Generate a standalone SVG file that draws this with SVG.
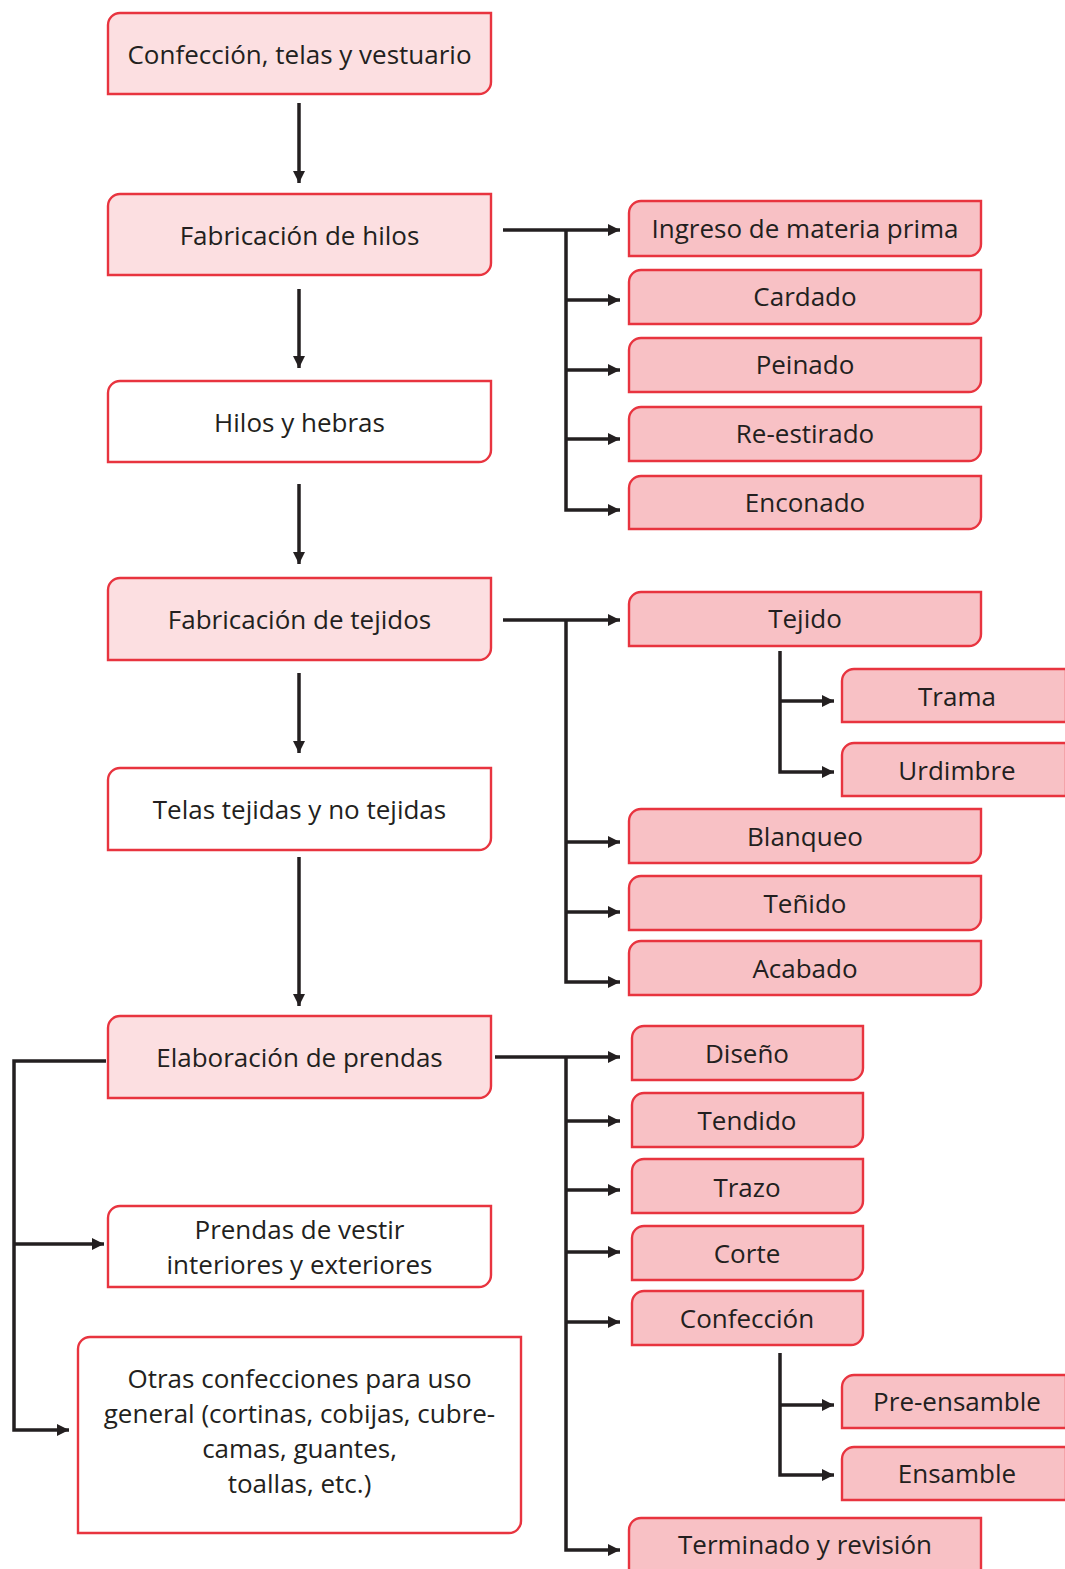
<svg xmlns="http://www.w3.org/2000/svg" width="1065" height="1569" viewBox="0 0 1065 1569">
<defs>
<style>
.t{font-family:"Open Sans","Noto Sans",sans-serif;font-size:26px;fill:#231f20;text-anchor:middle;dominant-baseline:central}
.main{fill:#fcdfe1;stroke:#e8343f;stroke-width:2.4}
.white{fill:#ffffff;stroke:#e8343f;stroke-width:2.4}
.sub{fill:#f8c1c5;stroke:#e8343f;stroke-width:2.4}
.c{fill:none;stroke:#231f20;stroke-width:3.5}
</style>
<marker id="ah" markerUnits="userSpaceOnUse" markerWidth="12" markerHeight="12" viewBox="0 0 12 12" refX="12" refY="6" orient="auto">
<path d="M0,0 L12,6 L0,12 Z" fill="#231f20"/>
</marker>
</defs>
<g id="connectors">
<line class="c" x1="299" y1="103" x2="299" y2="183" marker-end="url(#ah)"/>
<line class="c" x1="299" y1="289" x2="299" y2="368" marker-end="url(#ah)"/>
<line class="c" x1="299" y1="484" x2="299" y2="564" marker-end="url(#ah)"/>
<line class="c" x1="299" y1="673" x2="299" y2="753" marker-end="url(#ah)"/>
<line class="c" x1="299" y1="857" x2="299" y2="1006" marker-end="url(#ah)"/>
<line class="c" x1="503" y1="230" x2="620" y2="230" marker-end="url(#ah)"/>
<polyline class="c" points="566,230 566,510 620,510" marker-end="url(#ah)"/>
<line class="c" x1="566" y1="300" x2="620" y2="300" marker-end="url(#ah)"/>
<line class="c" x1="566" y1="370" x2="620" y2="370" marker-end="url(#ah)"/>
<line class="c" x1="566" y1="439" x2="620" y2="439" marker-end="url(#ah)"/>
<line class="c" x1="503" y1="620" x2="620" y2="620" marker-end="url(#ah)"/>
<polyline class="c" points="566,620 566,982 620,982" marker-end="url(#ah)"/>
<line class="c" x1="566" y1="842" x2="620" y2="842" marker-end="url(#ah)"/>
<line class="c" x1="566" y1="912" x2="620" y2="912" marker-end="url(#ah)"/>
<polyline class="c" points="780,651 780,772 834,772" marker-end="url(#ah)"/>
<line class="c" x1="780" y1="701" x2="834" y2="701" marker-end="url(#ah)"/>
<line class="c" x1="495" y1="1057" x2="620" y2="1057" marker-end="url(#ah)"/>
<polyline class="c" points="566,1057 566,1550 620,1550" marker-end="url(#ah)"/>
<line class="c" x1="566" y1="1121" x2="620" y2="1121" marker-end="url(#ah)"/>
<line class="c" x1="566" y1="1190" x2="620" y2="1190" marker-end="url(#ah)"/>
<line class="c" x1="566" y1="1252" x2="620" y2="1252" marker-end="url(#ah)"/>
<line class="c" x1="566" y1="1322" x2="620" y2="1322" marker-end="url(#ah)"/>
<polyline class="c" points="780,1353 780,1475 834,1475" marker-end="url(#ah)"/>
<line class="c" x1="780" y1="1405" x2="834" y2="1405" marker-end="url(#ah)"/>
<polyline class="c" points="106,1061 14,1061 14,1430 69,1430" marker-end="url(#ah)"/>
<line class="c" x1="14" y1="1244" x2="104" y2="1244" marker-end="url(#ah)"/>
</g>
<g id="n1"><path class="main" d="M108,25 A12,12 0 0 1 120,13 H491 V82 A12,12 0 0 1 479,94 H108 Z"/><text class="t" x="299.5" y="54">Confección, telas y vestuario</text></g>
<g id="n2"><path class="main" d="M108,206 A12,12 0 0 1 120,194 H491 V263 A12,12 0 0 1 479,275 H108 Z"/><text class="t" x="299.5" y="235">Fabricación de hilos</text></g>
<g id="n3"><path class="white" d="M108,393 A12,12 0 0 1 120,381 H491 V450 A12,12 0 0 1 479,462 H108 Z"/><text class="t" x="299.5" y="422">Hilos y hebras</text></g>
<g id="n4"><path class="main" d="M108,590 A12,12 0 0 1 120,578 H491 V648 A12,12 0 0 1 479,660 H108 Z"/><text class="t" x="299.5" y="619">Fabricación de tejidos</text></g>
<g id="n5"><path class="white" d="M108,780 A12,12 0 0 1 120,768 H491 V838 A12,12 0 0 1 479,850 H108 Z"/><text class="t" x="299.5" y="809">Telas tejidas y no tejidas</text></g>
<g id="n6"><path class="main" d="M108,1028 A12,12 0 0 1 120,1016 H491 V1086 A12,12 0 0 1 479,1098 H108 Z"/><text class="t" x="299.5" y="1057">Elaboración de prendas</text></g>
<g id="n7"><path class="white" d="M108,1218 A12,12 0 0 1 120,1206 H491 V1275 A12,12 0 0 1 479,1287 H108 Z"/><text class="t" x="299.5" y="1229">Prendas de vestir</text><text class="t" x="299.5" y="1264">interiores y exteriores</text></g>
<g id="n8"><path class="white" d="M78,1349 A12,12 0 0 1 90,1337 H521 V1521 A12,12 0 0 1 509,1533 H78 Z"/><text class="t" x="299.5" y="1378">Otras confecciones para uso</text><text class="t" x="299.5" y="1413">general (cortinas, cobijas, cubre-</text><text class="t" x="299.5" y="1448">camas, guantes,</text><text class="t" x="299.5" y="1483">toallas, etc.)</text></g>
<g id="s1"><path class="sub" d="M629,213 A12,12 0 0 1 641,201 H981 V244 A12,12 0 0 1 969,256 H629 Z"/><text class="t" x="805" y="228">Ingreso de materia prima</text></g>
<g id="s2"><path class="sub" d="M629,282 A12,12 0 0 1 641,270 H981 V312 A12,12 0 0 1 969,324 H629 Z"/><text class="t" x="805" y="296">Cardado</text></g>
<g id="s3"><path class="sub" d="M629,350 A12,12 0 0 1 641,338 H981 V380 A12,12 0 0 1 969,392 H629 Z"/><text class="t" x="805" y="364">Peinado</text></g>
<g id="s4"><path class="sub" d="M629,419 A12,12 0 0 1 641,407 H981 V449 A12,12 0 0 1 969,461 H629 Z"/><text class="t" x="805" y="433">Re-estirado</text></g>
<g id="s5"><path class="sub" d="M629,488 A12,12 0 0 1 641,476 H981 V517 A12,12 0 0 1 969,529 H629 Z"/><text class="t" x="805" y="502">Enconado</text></g>
<g id="s6"><path class="sub" d="M629,604 A12,12 0 0 1 641,592 H981 V634 A12,12 0 0 1 969,646 H629 Z"/><text class="t" x="805" y="618">Tejido</text></g>
<g id="s7"><path class="sub" d="M842,681 A12,12 0 0 1 854,669 H1066 V722 H842 Z"/><text class="t" x="957" y="696">Trama</text></g>
<g id="s8"><path class="sub" d="M842,755 A12,12 0 0 1 854,743 H1066 V796 H842 Z"/><text class="t" x="957" y="770">Urdimbre</text></g>
<g id="s9"><path class="sub" d="M629,821 A12,12 0 0 1 641,809 H981 V851 A12,12 0 0 1 969,863 H629 Z"/><text class="t" x="805" y="836">Blanqueo</text></g>
<g id="s10"><path class="sub" d="M629,888 A12,12 0 0 1 641,876 H981 V918 A12,12 0 0 1 969,930 H629 Z"/><text class="t" x="805" y="903">Teñido</text></g>
<g id="s11"><path class="sub" d="M629,953 A12,12 0 0 1 641,941 H981 V983 A12,12 0 0 1 969,995 H629 Z"/><text class="t" x="805" y="968">Acabado</text></g>
<g id="s12"><path class="sub" d="M632,1038 A12,12 0 0 1 644,1026 H863 V1068 A12,12 0 0 1 851,1080 H632 Z"/><text class="t" x="747" y="1053">Diseño</text></g>
<g id="s13"><path class="sub" d="M632,1105 A12,12 0 0 1 644,1093 H863 V1135 A12,12 0 0 1 851,1147 H632 Z"/><text class="t" x="747" y="1120">Tendido</text></g>
<g id="s14"><path class="sub" d="M632,1171 A12,12 0 0 1 644,1159 H863 V1201 A12,12 0 0 1 851,1213 H632 Z"/><text class="t" x="747" y="1187">Trazo</text></g>
<g id="s15"><path class="sub" d="M632,1238 A12,12 0 0 1 644,1226 H863 V1268 A12,12 0 0 1 851,1280 H632 Z"/><text class="t" x="747" y="1253">Corte</text></g>
<g id="s16"><path class="sub" d="M632,1303 A12,12 0 0 1 644,1291 H863 V1333 A12,12 0 0 1 851,1345 H632 Z"/><text class="t" x="747" y="1318">Confección</text></g>
<g id="s17"><path class="sub" d="M842,1387 A12,12 0 0 1 854,1375 H1066 V1428 H842 Z"/><text class="t" x="957" y="1401">Pre-ensamble</text></g>
<g id="s18"><path class="sub" d="M842,1459 A12,12 0 0 1 854,1447 H1066 V1500 H842 Z"/><text class="t" x="957" y="1473">Ensamble</text></g>
<g id="s19"><path class="sub" d="M629,1530 A12,12 0 0 1 641,1518 H981 V1572 H629 Z"/><text class="t" x="805" y="1544">Terminado y revisión</text></g>
</svg>
